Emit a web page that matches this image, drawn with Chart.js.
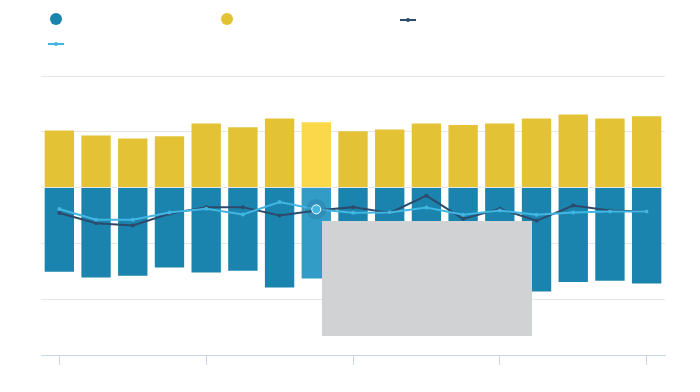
<!DOCTYPE html>
<html>
<head>
<meta charset="utf-8">
<script src="https://cdn.jsdelivr.net/npm/chart.js@4"></script>
<style>
  html, body { margin: 0; padding: 0; background: #fff; }
  #wrap { width: 700px; height: 392px; position: relative; }
</style>
</head>
<body>
<div id="wrap"><canvas id="chart"></canvas></div>
<script>
// chart values (one grid step = 10)
const categories = ['1', '2', '3', '4', '5', '6', '7', '8', '9', '10', '11', '12', '13', '14', '15', '16', '17'];
const negativeBars = [-15.1, -16.1, -15.8, -14.3, -15.2, -14.9, -17.9, -16.3, -15.6, -16.0, -17.0, -16.5, -17.2, -18.6, -16.9, -16.7, -17.2];
const positiveBars = [10.25, 9.35, 8.8, 9.2, 11.5, 10.8, 12.4, 11.7, 10.1, 10.4, 11.5, 11.2, 11.5, 12.4, 13.1, 12.4, 12.8];
const darkLine = [-4.55, -6.4, -6.8, -4.7, -3.5, -3.5, -5.0, -4.1, -3.5, -4.55, -1.45, -5.6, -3.8, -5.95, -3.2, -4.1, -4.3];
const lightLine = [-3.85, -5.75, -5.75, -4.45, -3.8, -4.8, -2.6, -3.9, -4.5, -4.45, -3.55, -4.85, -4.1, -4.85, -4.45, -4.3, -4.3];
const yTicks = [-30, -20, -10, 0, 10, 20];

const hovered = 7;
const blue = '#1a84ae', blueHover = '#339cc6';
const yellow = '#e3c236', yellowHover = '#fbd84a';
const dark = '#2e4a6b', light = '#42b6e2';

function colorsFor(base, hi) {
    return categories.map(function(c, i) { return i === hovered ? hi : base; });
}

const overlay = {
    id: 'overlay',
    afterDatasetsDraw: function(chart) {
        const ctx = chart.ctx;
        // hover halo on the light line
        const pt = chart.getDatasetMeta(0).data[hovered];
        ctx.save();
        ctx.beginPath();
        ctx.arc(pt.x, pt.y, 10, 0, Math.PI * 2);
        ctx.fillStyle = 'rgba(30, 100, 140, 0.25)';
        ctx.fill();
        ctx.beginPath();
        ctx.arc(pt.x, pt.y, 4.5, 0, Math.PI * 2);
        ctx.fillStyle = light;
        ctx.fill();
        ctx.lineWidth = 1;
        ctx.strokeStyle = '#ffffff';
        ctx.stroke();

        // tooltip box
        ctx.fillStyle = '#d1d2d4';
        ctx.fillRect(322, 221, 210, 115);

        // legend markers
        ctx.fillStyle = blue;
        ctx.beginPath(); ctx.arc(56, 19, 6, 0, Math.PI * 2); ctx.fill();
        ctx.fillStyle = yellow;
        ctx.beginPath(); ctx.arc(227, 19, 6, 0, Math.PI * 2); ctx.fill();
        [[408, 20, dark], [56, 44, light]].forEach(function(m) {
            ctx.strokeStyle = m[2];
            ctx.lineWidth = 2;
            ctx.beginPath(); ctx.moveTo(m[0] - 8, m[1]); ctx.lineTo(m[0] + 8, m[1]); ctx.stroke();
            ctx.fillStyle = m[2];
            ctx.beginPath(); ctx.arc(m[0], m[1], 2, 0, Math.PI * 2); ctx.fill();
        });
        ctx.restore();
    }
};

new Chart(document.getElementById('chart'), {
    data: {
        labels: categories,
        datasets: [
            {
                type: 'line', data: lightLine, stack: 'l2', order: 0,
                borderColor: light, backgroundColor: light, borderWidth: 2,
                pointRadius: 2, pointBorderWidth: 0, tension: 0
            },
            {
                type: 'line', data: darkLine, stack: 'l1', order: 1,
                borderColor: dark, backgroundColor: dark, borderWidth: 2,
                pointRadius: 2, pointBorderWidth: 0, tension: 0
            },
            {
                type: 'bar', data: negativeBars, stack: 'bars', order: 2,
                backgroundColor: colorsFor(blue, blueHover),
                barPercentage: 0.8, categoryPercentage: 1
            },
            {
                type: 'bar', data: positiveBars, stack: 'bars', order: 3,
                backgroundColor: colorsFor(yellow, yellowHover),
                barPercentage: 0.8, categoryPercentage: 1
            }
        ]
    },
    options: {
        responsive: true,
        maintainAspectRatio: false,
        animation: false,
        events: [],
        layout: { padding: { left: 41, right: 35, top: 76, bottom: 27 } },
        plugins: {
            legend: { display: false },
            tooltip: { enabled: false }
        },
        scales: {
            x: {
                offset: true,
                grid: {
                    offset: false,
                    drawOnChartArea: false,
                    tickLength: 10,
                    lineWidth: 1,
                    color: function(c) { return c.index % 4 === 0 ? '#ccd6eb' : 'rgba(0,0,0,0)'; }
                },
                border: { color: '#ccd6eb', width: 1 },
                ticks: { display: false, autoSkip: false }
            },
            y: {
                stacked: true,
                min: yTicks[0],
                max: yTicks[yTicks.length - 1],
                afterBuildTicks: function(scale) {
                    scale.ticks = yTicks.map(function(v) { return { value: v }; });
                },
                grid: { color: '#e6e6e6', drawTicks: false },
                border: { display: false },
                ticks: { display: false }
            }
        }
    },
    plugins: [overlay]
});
</script>
</body>
</html>
